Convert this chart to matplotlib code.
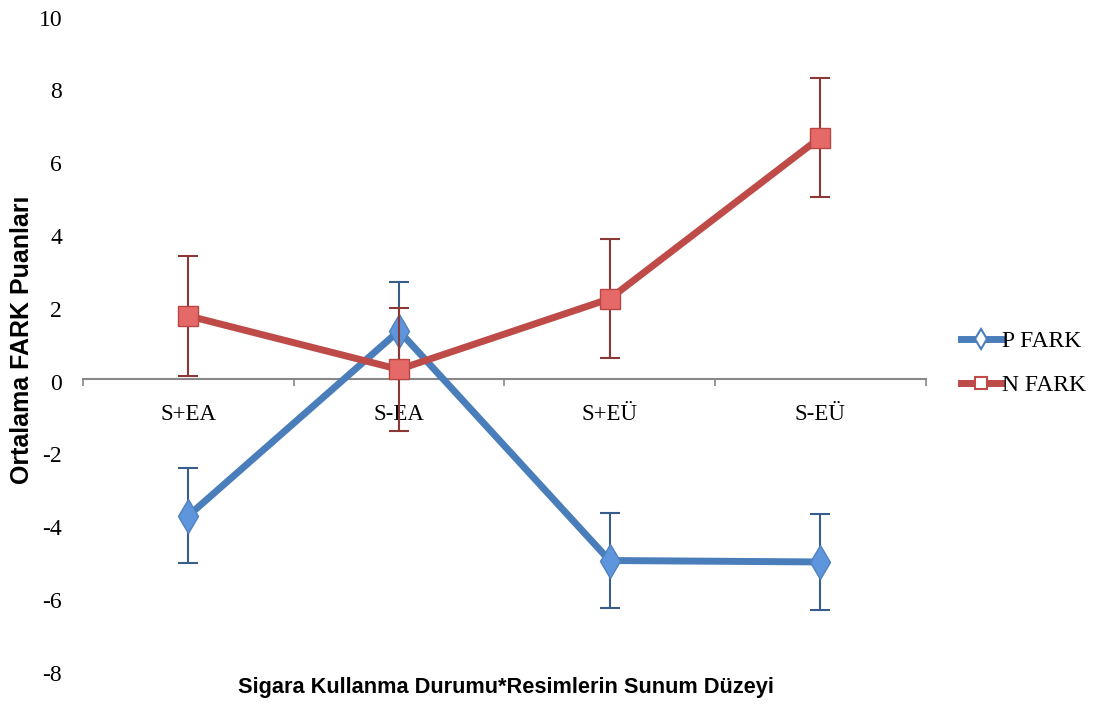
import numpy as np
import matplotlib
matplotlib.use('Agg')
import matplotlib.pyplot as plt
from matplotlib.transforms import ScaledTranslation

categories = ['S+EA', 'S-EA', 'S+EÜ', 'S-EÜ']
p_fark = [-3.77, 1.31, -5.00, -5.04]
p_err = [1.31, 1.33, 1.31, 1.31]
n_fark = [1.72, 0.25, 2.19, 6.62]
n_err = [1.65, 1.69, 1.63, 1.64]
yticks = [-8, -6, -4, -2, 0, 2, 4, 6, 8, 10]

fig = plt.figure(figsize=(10.98, 7.04), dpi=100)
ax = fig.add_axes([0.0756, 0.0487, 0.7674, 0.9307])
x = np.arange(len(categories))

blue = '#4A7EBB'
red = '#BE4B48'

# spine first, moving it resets the ticks
for s in ['top', 'right', 'left']:
    ax.spines[s].set_visible(False)
ax.spines['bottom'].set_position(('data', 0))
ax.spines['bottom'].set_color('#888888')
ax.spines['bottom'].set_linewidth(1.5)
ax.spines['bottom'].set_zorder(1)

# P FARK
ax.errorbar(x, p_fark, yerr=p_err, fmt='none', ecolor='#385D8A', elinewidth=1.5,
            capsize=7, capthick=1.5, zorder=2)
ax.plot(x, p_fark, color=blue, lw=5, zorder=3)
ax.plot(x, p_fark, ls='none', marker='d', ms=17, mfc='#5F95DC', mec='#4F81BD', mew=1, zorder=4)

# N FARK
ax.errorbar(x, n_fark, yerr=n_err, fmt='none', ecolor='#8C3836', elinewidth=1.5,
            capsize=7, capthick=1.5, zorder=5)
ax.plot(x, n_fark, color=red, lw=5, zorder=6)
ax.plot(x, n_fark, ls='none', marker='s', ms=14, mfc='#E56A67', mec='#B84744', mew=1, zorder=7)

ax.set_xlim(-0.5, 3.5)
ax.set_ylim(-8, 10)
ax.set_yticks(yticks)
ax.set_yticklabels([str(v) for v in yticks], fontname='Liberation Serif', fontsize=17)
ax.tick_params(axis='y', length=0, pad=15)
# nudge y labels down a little like the original
for lab in ax.get_yticklabels():
    lab.set_transform(lab.get_transform() + ScaledTranslation(0, -3 / 100, fig.dpi_scale_trans))

ax.set_xticks(x)
ax.set_xticklabels(categories, fontname='Liberation Serif', fontsize=16.5)
ax.set_xticks([-0.5, 0.5, 1.5, 2.5, 3.5], minor=True)
ax.tick_params(axis='x', which='major', length=0, pad=18)
ax.tick_params(axis='x', which='minor', length=5, width=1.2, color='#888888', direction='out')

fig.text(0.02, 0.517, 'Ortalama FARK Puanları', rotation=90, ha='center', va='center',
         fontname='Liberation Sans', fontweight='bold', fontsize=18)
fig.text(0.461, 0.023, 'Sigara Kullanma Durumu*Resimlerin Sunum Düzeyi', ha='center', va='center',
         fontname='Liberation Sans', fontweight='bold', fontsize=15.7)

h1, = ax.plot([], [], color=blue, lw=5, marker='d', ms=10, mfc='white', mec=blue, mew=1.5)
h2, = ax.plot([], [], color=red, lw=5, marker='s', ms=9, mfc='white', mec=red, mew=1.5)
fig.legend([h1, h2], ['P FARK', 'N FARK'], loc='center left', bbox_to_anchor=(0.875, 0.484),
           frameon=False, prop={'family': 'Liberation Serif', 'size': 17},
           handlelength=1.7, handletextpad=0.05, labelspacing=0.95,
           borderpad=0, borderaxespad=0)

fig.savefig('out.png', dpi=100)
